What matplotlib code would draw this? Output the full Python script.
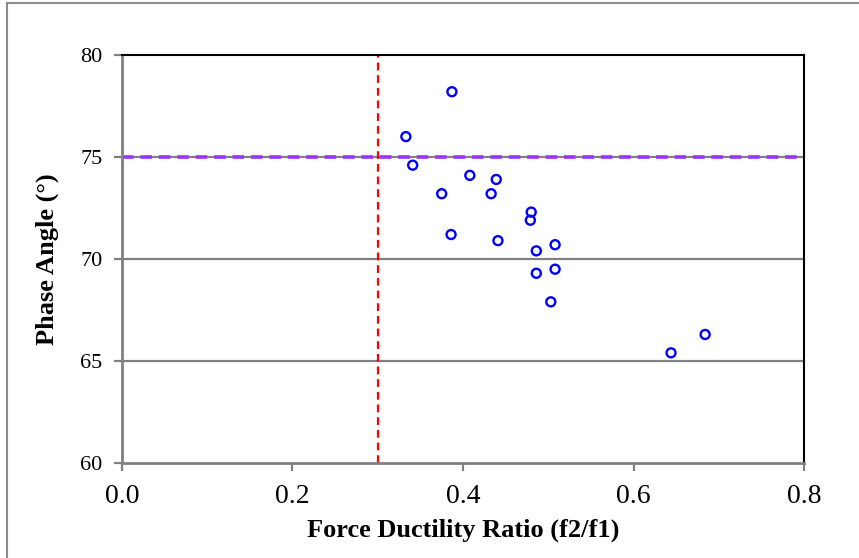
import matplotlib
matplotlib.use('Agg')
import matplotlib.pyplot as plt
from matplotlib.lines import Line2D

# force ductility ratio vs phase angle measurements
ratio = [0.387, 0.333, 0.341, 0.408, 0.439, 0.375, 0.433, 0.480, 0.479,
         0.386, 0.441, 0.508, 0.486, 0.508, 0.486, 0.503, 0.644, 0.684]
angle = [78.2, 76.0, 74.6, 74.1, 73.9, 73.2, 73.2, 72.3, 71.9,
         71.2, 70.9, 70.7, 70.4, 69.5, 69.3, 67.9, 65.4, 66.3]

ratio_limit = 0.3
angle_limit = 75

xticks = [0.0, 0.2, 0.4, 0.6, 0.8]
xtick_labels = ['0.0', '0.2', '0.4', '0.6', '0.8']
yticks = [60, 65, 70, 75, 80]

plt.rcParams['font.family'] = ['Liberation Serif', 'DejaVu Serif']

fig = plt.figure(figsize=(8.59, 5.58), dpi=100)
ax = fig.add_axes([0.142, 0.1703, 0.794, 0.7311])

# frame lines along the left and top of the chart
fig.lines.append(Line2D([0.008, 0.008], [0.0, 0.995], transform=fig.transFigure,
                        color='#8c8c8c', linewidth=1.5))
fig.lines.append(Line2D([0.008, 1.0], [0.995, 0.995], transform=fig.transFigure,
                        color='#8c8c8c', linewidth=1.5))

ax.set_xlim(0, 0.8)
ax.set_ylim(60, 80)

for y in [65, 70, 75]:
    ax.axhline(y, color='#808080', linewidth=1.6, zorder=1)

ax.axhline(angle_limit, color='#9933ff', linewidth=2.6, linestyle=(0, (3.2, 1.9)), zorder=2)
ax.axvline(ratio_limit, color='#ff0000', linewidth=1.6, linestyle=(0, (3.5, 2.2)), zorder=2)

ax.scatter(ratio, angle, s=42, facecolors='none', edgecolors='#0000ff',
           linewidths=1.7, zorder=3)

ax.set_xticks(xticks)
ax.set_xticklabels(xtick_labels, fontsize=20)
ax.set_yticks(yticks)
ax.tick_params(axis='y', labelsize=16, pad=8)
ax.tick_params(axis='x', pad=9)
ax.tick_params(direction='out', length=6, width=1.6, color='#808080')

ax.spines['left'].set_color('#808080')
ax.spines['bottom'].set_color('#808080')
ax.spines['left'].set_linewidth(2)
ax.spines['bottom'].set_linewidth(2)
ax.spines['top'].set_color('black')
ax.spines['right'].set_color('black')
ax.spines['top'].set_linewidth(1.5)
ax.spines['right'].set_linewidth(1.5)

ax.set_xlabel('Force Ductility Ratio (f2/f1)', fontsize=19, fontweight='bold', labelpad=7)
ax.set_ylabel('Phase Angle (°)', fontsize=19, fontweight='bold', labelpad=15)

fig.savefig('out.png', dpi=100)
